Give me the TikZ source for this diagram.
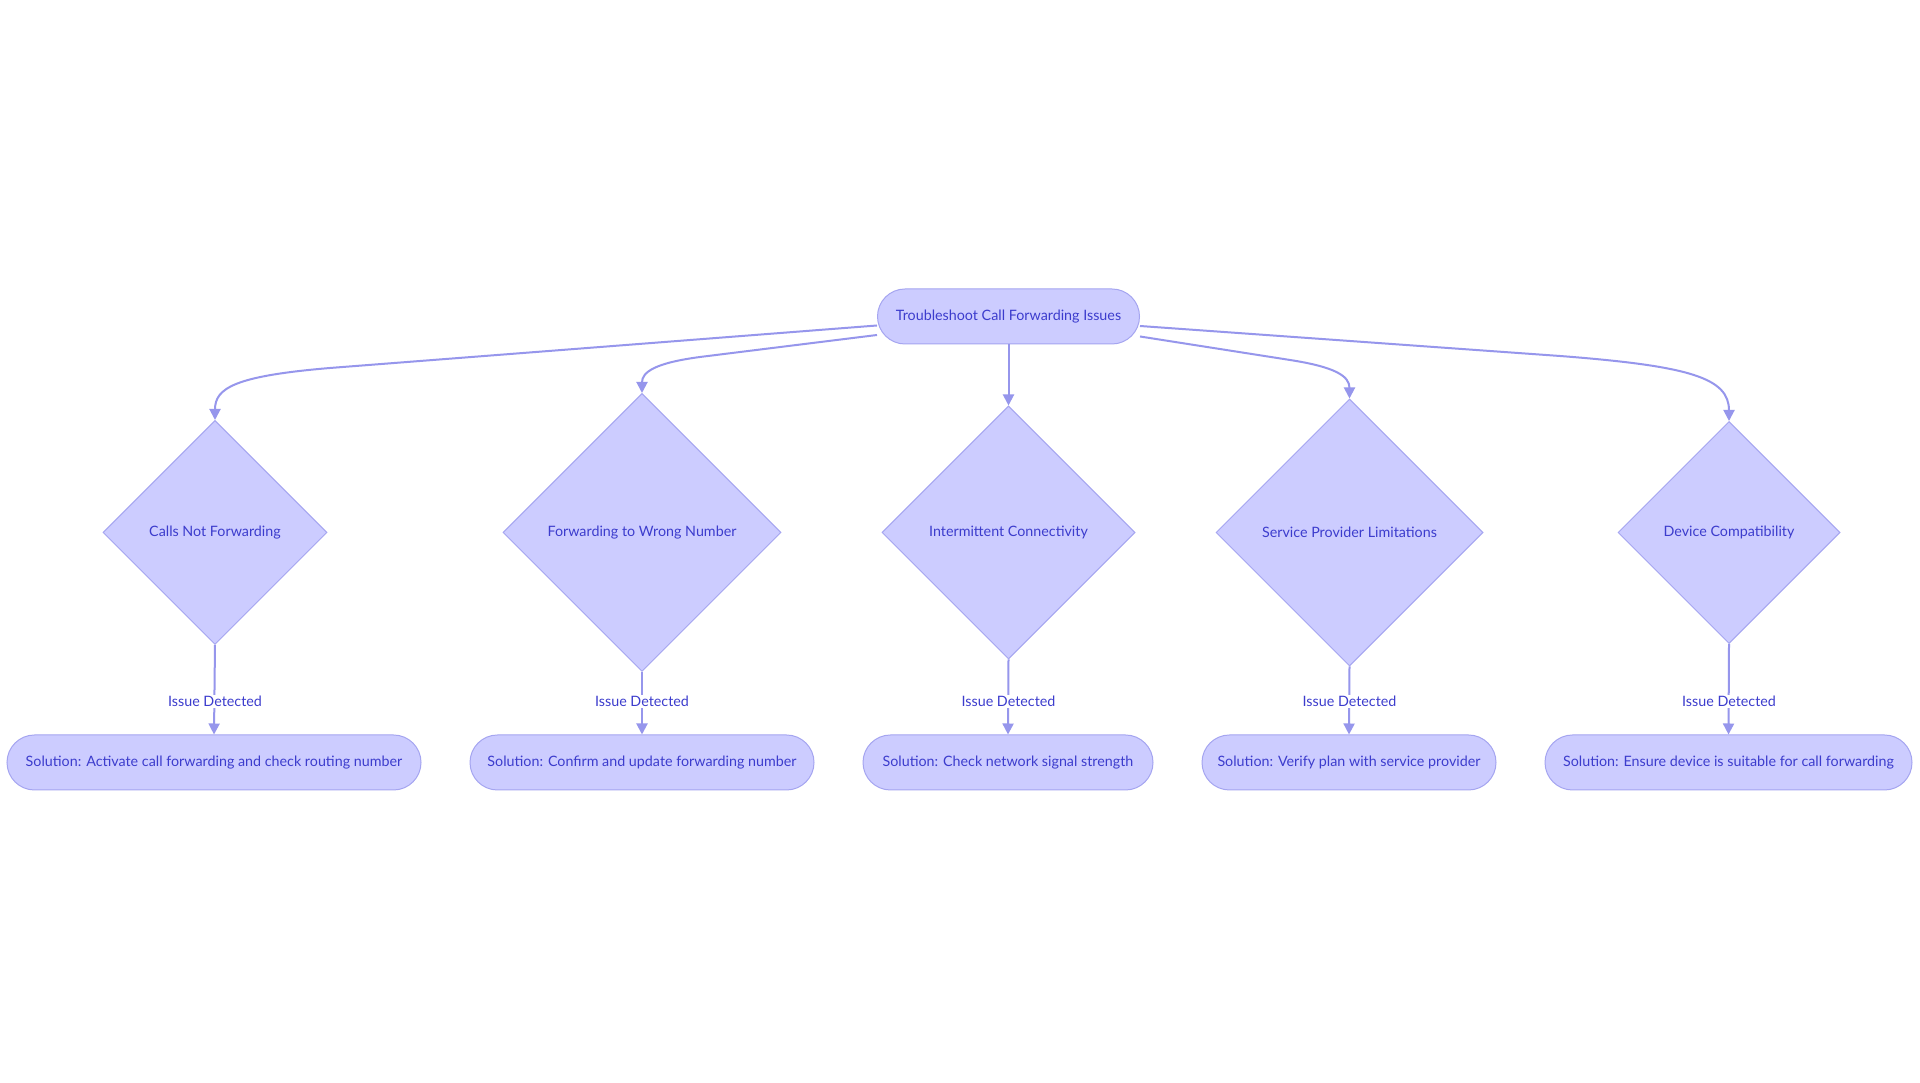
\documentclass[tikz,border=0pt]{standalone}
\usepackage{fontspec}
\setmainfont{Lato}
\usetikzlibrary{shapes.geometric,arrows.meta}
\definecolor{nfill}{RGB}{204,204,255}
\definecolor{nborder}{RGB}{165,165,240}
\definecolor{eline}{RGB}{150,150,236}
\definecolor{ntext}{RGB}{60,60,205}
\tikzset{
  pill/.style={draw=nborder, line width=1pt, fill=nfill, rounded corners=27.5pt, minimum height=55pt, inner sep=0pt, text=ntext, font=\fontsize{14.3}{16}\selectfont},
  decision/.style={draw=nborder, line width=1pt, fill=nfill, diamond, aspect=1, inner sep=0pt, text=ntext, font=\fontsize{14.3}{16}\selectfont},
  conn/.style={draw=eline, line width=2pt, -{Triangle[length=11pt,width=11pt]}},
  elabel/.style={fill=white, inner sep=1.5pt, text=ntext, font=\fontsize{14.3}{16}\selectfont},
}
\begin{document}
\begin{tikzpicture}[x=1pt,y=1pt]
\path[use as bounding box, fill=white] (0,0) rectangle (1920,1083);
% top
\node[pill, minimum width=262pt] (top) at (1008.5,766.5) {Troubleshoot Call Forwarding Issues};
% diamonds
\node[decision, minimum width=224pt, minimum height=224pt] (d1) at (215,550.5) {Calls Not Forwarding};
\node[decision, minimum width=278pt, minimum height=278pt] (d2) at (642,550.5) {Forwarding to Wrong Number};
\node[decision, minimum width=253pt, minimum height=253pt] (d3) at (1008.5,550.5) {Intermittent Connectivity};
\node[decision, minimum width=267pt, minimum height=267pt] (d4) at (1349.5,550.5) {Service Provider Limitations};
\node[decision, minimum width=222pt, minimum height=222pt] (d5) at (1729,550.5) {Device Compatibility};
% solutions
\node[pill, minimum width=414pt] (s1) at (214,320.5) {Solution: Activate call forwarding and check routing number};
\node[pill, minimum width=344pt] (s2) at (642,320.5) {Solution: Confirm and update forwarding number};
\node[pill, minimum width=290pt] (s3) at (1008,320.5) {Solution: Check network signal strength};
\node[pill, minimum width=294pt] (s4) at (1349,320.5) {Solution: Verify plan with service provider};
\node[pill, minimum width=367pt] (s5) at (1728.5,320.5) {Solution: Ensure device is suitable for call forwarding};
% top edges
\coordinate (c1) at (330,715);
\coordinate (c2) at (700,726);
\coordinate (c4) at (1290,723);
\coordinate (c5) at (1560,727);
\draw[conn] ([yshift=-9pt]top.west) -- (c1) .. controls (235,707) and (215,695) .. (d1.north);
\draw[conn] ([yshift=-18.5pt]top.west) -- (c2) .. controls (655,720) and (642,711) .. (d2.north);
\draw[conn] (top.south) -- (d3.north);
\draw[conn] ([yshift=-20pt]top.east) -- (c4) .. controls (1335,716) and (1349.5,707) .. (d4.north);
\draw[conn] ([yshift=-9.5pt]top.east) -- (c5) .. controls (1690,717) and (1729,705) .. (d5.north);
% bottom edges
\foreach \i/\x in {1/215,2/642,3/1008.5,4/1349.5,5/1729}{
  \draw[conn] (d\i.south) -- (s\i.north);
  \node[elabel] (l\i) at (\x,381.5) {Issue Detected};
}
\end{tikzpicture}
\end{document}
